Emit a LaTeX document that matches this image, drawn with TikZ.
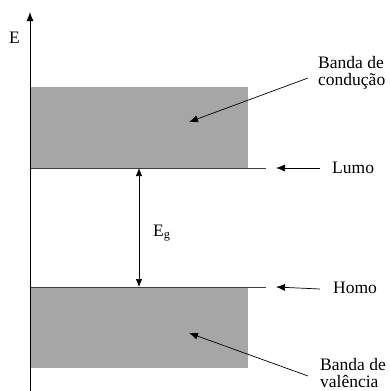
\documentclass[tikz,border=0pt]{standalone}
\usepackage{fontspec}
\setmainfont{Liberation Serif}
\usetikzlibrary{arrows.meta}
\definecolor{bandgray}{HTML}{A6A6A6}
\tikzset{
  band/.style={
    fill=bandgray,
    draw=none
  },
  level/.style={
    draw=black!75,
    line width=0.9pt
  },
  axis/.style={
    line width=0.9pt,
    -{Latex[length=9pt,width=7pt]}
  },
  gap/.style={
    line width=0.7pt,
    {Latex[length=8pt,width=6.5pt]}-{Latex[length=8pt,width=6.5pt]}
  },
  pointer/.style={
    line width=0.7pt,
    -{Latex[length=9pt,width=7pt]}
  },
  lbl/.style={
    inner sep=0pt,
    font=\fontsize{17.5}{17}\selectfont
  },
  every picture/.style = {
    x=1pt,
    y=-1pt
  }
}

\begin{document}
\begin{tikzpicture}
        \useasboundingbox (0,0) rectangle (390,391);
        % bands
        \fill[band] (30,87) rectangle (248,168);
        \fill[band] (30,287) rectangle (248,368);
        % levels
        \coordinate (lumoL) at (30,168);
        \coordinate (lumoR) at (266,168);
        \coordinate (homoL) at (30,287);
        \coordinate (homoR) at (266,287);
        \draw[level] (lumoL)--(lumoR);
        \draw[level] (homoL)--(homoR);
        % energy axis
        \coordinate (axisFoot) at (30,392);
        \coordinate (axisTip) at (30,12);
        \draw[axis] (axisFoot)--(axisTip);
        \node[lbl, anchor=base west] (Elbl) at (9,43) {E};
        % gap
        \coordinate (gapTop) at (139,168);
        \coordinate (gapBot) at (139,287);
        \draw[gap] (gapBot)--(gapTop);
        \node[lbl, anchor=base west] (Eg) at (153,236) {E\textsubscript{g}};
        % labels
        \node[lbl, anchor=west] (lumo) at (332,168) {Lumo};
        \node[lbl, anchor=west] (homo) at (333,288) {Homo};
        \node[lbl, anchor=west, align=left] (cond) at (318,73) {Banda de\\condução};
        \node[lbl, anchor=west, align=left] (val) at (320,373) {Banda de\\valência};
        \coordinate (lumoTip) at (276,168);
        \coordinate (homoTip) at (276,287);
        \coordinate (condTip) at (189,122);
        \coordinate (valTip) at (189,333);
        \draw[pointer] ([xshift=-12pt]lumo.west)--(lumoTip);
        \draw[pointer] ([xshift=-13pt,yshift=-1pt]homo.west)--(homoTip);
        \draw[pointer] ([shift={(-10,5)}]cond.west)--(condTip);
        \draw[pointer] ([shift={(-12,3)}]val.west)--(valTip);
\end{tikzpicture}
\end{document}
